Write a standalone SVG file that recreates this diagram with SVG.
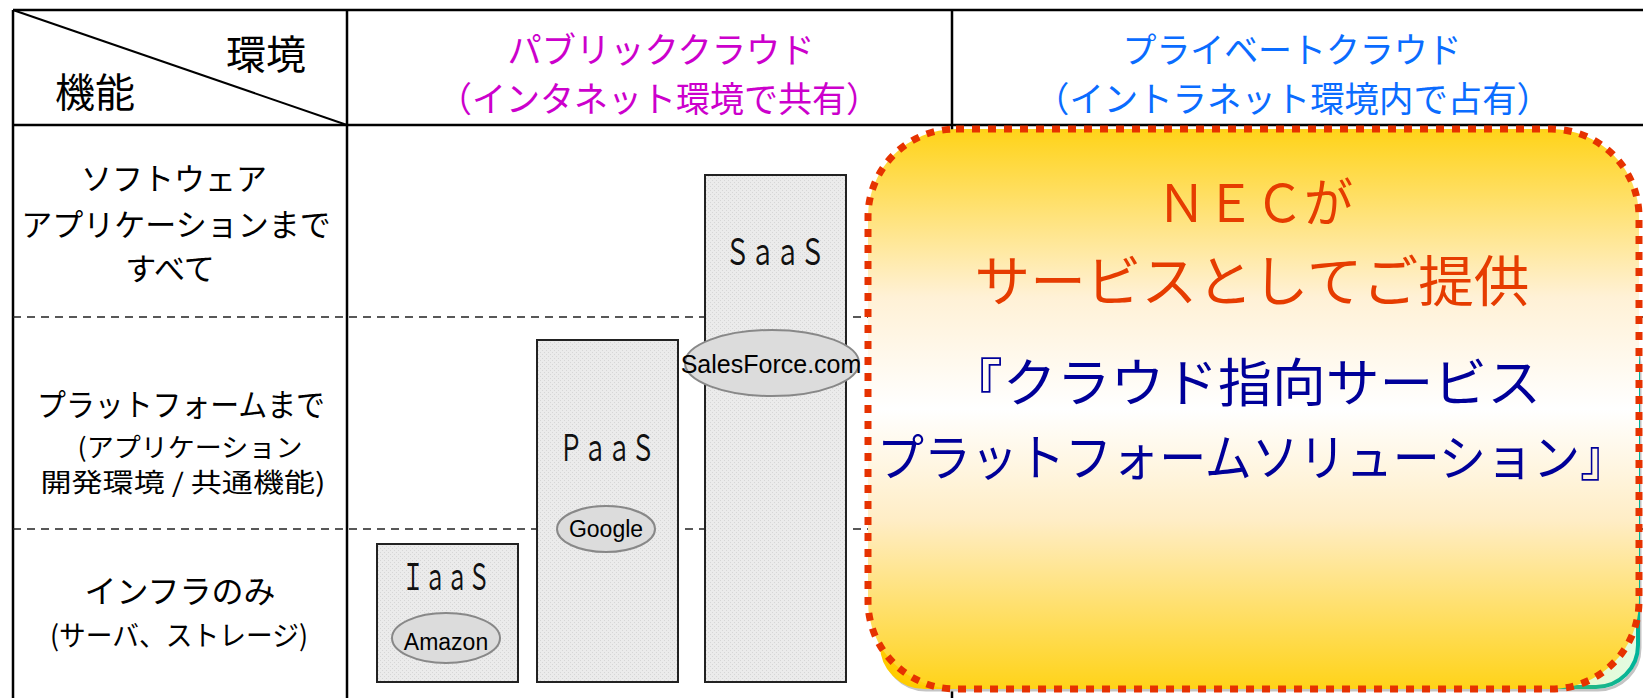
<svg xmlns="http://www.w3.org/2000/svg" width="1643" height="698" viewBox="0 0 1643 698">
<style>
.jp{font-family:"Noto Sans CJK JP","Noto Sans CJK SC",sans-serif;}
.lat{font-family:"Liberation Sans",Arial,sans-serif;fill:#000;}
.grid{stroke:#000;stroke-width:2.5;fill:none;}
.dash{stroke:#222;stroke-width:1.5;stroke-dasharray:8 6;fill:none;}
.bar{fill:url(#dots);stroke:#222;stroke-width:2;}
.ell{fill:#DCDCDC;stroke:#888;stroke-width:2;}
.lbl{font-size:31px;fill:#000;text-anchor:middle;}
.bt{font-size:24px;fill:#111;text-anchor:middle;}
</style>
<defs>
<pattern id="dots" width="4" height="4" patternUnits="userSpaceOnUse">
<rect width="4" height="4" fill="#EBEBEB"/>
<rect x="0" y="0" width="1" height="1" fill="#D6D6D6"/>
<rect x="2" y="2" width="1" height="1" fill="#D6D6D6"/>
</pattern>
<linearGradient id="callFill" x1="0" y1="0" x2="0" y2="1">
<stop offset="0" stop-color="#FFD318"/>
<stop offset="0.3" stop-color="#FFF1D6"/>
<stop offset="0.5" stop-color="#FFFFFF"/>
<stop offset="0.7" stop-color="#FFEDC5"/>
<stop offset="1" stop-color="#FFD318"/>
</linearGradient>
<linearGradient id="backFill" x1="0" y1="0" x2="1" y2="0">
<stop offset="0" stop-color="#FFCC00"/>
<stop offset="0.5" stop-color="#FFE680"/>
<stop offset="1" stop-color="#E2FCE2"/>
</linearGradient>
<linearGradient id="backStroke" x1="0" y1="0" x2="1" y2="0">
<stop offset="0" stop-color="#FFCC00"/>
<stop offset="0.5" stop-color="#FFCC00"/>
<stop offset="1" stop-color="#00B49A"/>
</linearGradient>
</defs>
<rect width="1643" height="698" fill="#FFFFFF"/>

<g id="table">
<line class="grid" x1="13" y1="10" x2="1643" y2="10"/>
<line class="grid" x1="13" y1="125" x2="1643" y2="125"/>
<line class="grid" x1="13" y1="10" x2="13" y2="698"/>
<line class="grid" x1="347" y1="10" x2="347" y2="698"/>
<line class="grid" x1="952" y1="10" x2="952" y2="698"/>
<line x1="13" y1="10" x2="347" y2="125" stroke="#000" stroke-width="2"/>
<line class="dash" x1="13" y1="317" x2="1643" y2="317"/>
<line class="dash" x1="13" y1="529" x2="1643" y2="529"/>
</g>

<g id="header-corner" class="jp">
<text x="266" y="69" font-size="40" text-anchor="middle" fill="#000">環境</text>
<text x="95" y="107" font-size="40" text-anchor="middle" fill="#000">機能</text>
</g>

<g id="header-public" class="jp" fill="#CC00CC" font-size="35" text-anchor="middle">
<text x="661" y="63" textLength="307" lengthAdjust="spacingAndGlyphs">パブリッククラウド</text>
<text x="659" y="112" textLength="442" lengthAdjust="spacingAndGlyphs">（インタネット環境で共有）</text>
</g>

<g id="header-private" class="jp" fill="#0A6CFF" font-size="35" text-anchor="middle">
<text x="1292" y="63" textLength="339" lengthAdjust="spacingAndGlyphs">プライベートクラウド</text>
<text x="1293" y="112" textLength="516" lengthAdjust="spacingAndGlyphs">（イントラネット環境内で占有）</text>
</g>

<g id="row-software" class="jp lbl">
<text x="174" y="190">ソフトウェア</text>
<text x="176" y="236">アプリケーションまで</text>
<text x="170" y="280">すべて</text>
</g>

<g id="row-platform" class="jp">
<text x="181" y="416" font-size="31" text-anchor="middle" textLength="288" lengthAdjust="spacingAndGlyphs">プラットフォームまで</text>
<text x="190" y="457" font-size="26" text-anchor="middle" textLength="225" lengthAdjust="spacingAndGlyphs">(アプリケーション</text>
<text x="183" y="492" font-size="26" text-anchor="middle" textLength="285" lengthAdjust="spacingAndGlyphs">開発環境 / 共通機能)</text>
</g>

<g id="row-infra" class="jp">
<text x="180" y="603" font-size="32" text-anchor="middle">インフラのみ</text>
<text x="179" y="646" font-size="28" text-anchor="middle" textLength="258" lengthAdjust="spacingAndGlyphs">(サーバ、ストレージ)</text>
</g>

<g id="bar-iaas">
<rect class="bar" x="377" y="544" width="141" height="138"/>
<text class="jp bt" transform="translate(446,590) scale(1,1.5)" textLength="88" lengthAdjust="spacingAndGlyphs">ＩａａＳ</text>
<ellipse class="ell" cx="446" cy="638" rx="54" ry="25"/>
<text class="lat" x="446" y="650" font-size="23" text-anchor="middle">Amazon</text>
</g>

<g id="bar-paas">
<rect class="bar" x="537" y="340" width="141" height="342"/>
<text class="jp bt" transform="translate(607,461) scale(1,1.5)">ＰａａＳ</text>
<ellipse class="ell" cx="606" cy="529" rx="49" ry="23"/>
<text class="lat" x="606" y="537" font-size="23" text-anchor="middle">Google</text>
</g>

<g id="bar-saas">
<rect class="bar" x="705" y="175" width="141" height="507"/>
<text class="jp bt" transform="translate(775,265) scale(1,1.5)" textLength="100" lengthAdjust="spacingAndGlyphs">ＳａａＳ</text>
<ellipse class="ell" cx="772" cy="363" rx="87" ry="33"/>
<text class="lat" x="771" y="373" font-size="25" text-anchor="middle">SalesForce.com</text>
</g>

<g id="callout">
<rect x="884" y="322" width="756" height="368" rx="42" fill="none" stroke="#C4C4C4" stroke-width="3"/>
<rect x="882" y="320" width="756" height="367" rx="42" fill="url(#backFill)" stroke="url(#backStroke)" stroke-width="4"/>
<rect x="868" y="129" width="771" height="560" rx="88" fill="url(#callFill)" stroke="#E63200" stroke-width="7" stroke-dasharray="8 8"/>
<g class="jp" text-anchor="middle">
<text x="1255" y="222" font-size="52" fill="#E63C00" textLength="196" lengthAdjust="spacingAndGlyphs">ＮＥＣが</text>
<text x="1252" y="301" font-size="55" fill="#E63C00" textLength="555" lengthAdjust="spacingAndGlyphs">サービスとしてご提供</text>
<text x="1245" y="402" font-size="52" fill="#000099" textLength="592" lengthAdjust="spacingAndGlyphs">『クラウド指向サービス</text>
<text x="1252" y="476" font-size="50" fill="#000099" textLength="750" lengthAdjust="spacingAndGlyphs">プラットフォームソリューション』</text>
</g>
</g>
</svg>
